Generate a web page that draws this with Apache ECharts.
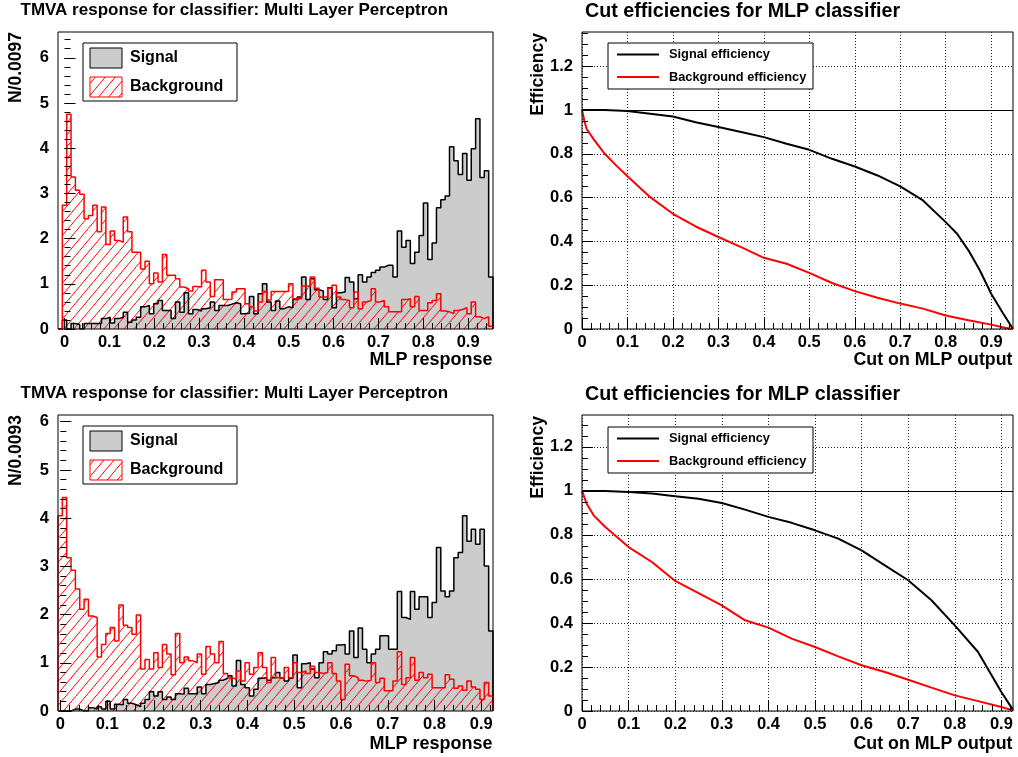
<!DOCTYPE html>
<html>
<head>
<meta charset="utf-8">
<script src="https://cdn.jsdelivr.net/npm/echarts@6/dist/echarts.min.js"></script>
<style>
  html, body { margin: 0; padding: 0; background: #ffffff; }
  #chart { width: 1018px; height: 757px; }
</style>
</head>
<body>
<div id="chart"></div>
<script>
// ---- Binning of the two MLP response histograms ----
const TOP_LO = -0.0145, TOP_BIN = 0.0097;   // N/0.0097
const BOT_LO = -0.005,  BOT_BIN = 0.0093;   // N/0.0093

// ---- Histogram contents (100 bins each) ----
const SIG_TOP = [
  0, 0.2, 0, 0.12, 0.1, 0, 0.12, 0.12, 0.12, 0.12,
  0.23, 0.26, 0.13, 0.23, 0.26, 0.37, 0.15, 0.2, 0.26, 0.49,
  0.52, 0.34, 0.56, 0.63, 0.41, 0.41, 0.23, 0.6, 0.37, 0.8,
  0.34, 0.43, 0.4, 0.45, 0.47, 0.6, 0.41, 0.52, 0.52, 0.55,
  0.58, 0.56, 0.34, 0.35, 0.72, 0.34, 0.78, 1.0, 0.6, 0.41,
  0.62, 0.45, 0.49, 0.47, 0.65, 0.71, 1.15, 0.65, 1.11, 0.87,
  0.84, 0.65, 0.91, 0.47, 0.8, 0.82, 1.14, 1.04, 0.67, 1.2,
  1.04, 1.15, 1.25, 1.3, 1.37, 1.41, 1.41, 1.15, 2.17, 1.81,
  1.96, 1.45, 1.7, 2.07, 2.79, 1.54, 1.9, 2.68, 2.86, 2.94,
  4.03, 3.72, 3.42, 3.88, 3.29, 3.99, 4.65, 3.35, 3.5, 1.15
];
const BKG_TOP = [
  0, 2.74, 4.75, 3.36, 3.07, 2.98, 2.44, 2.51, 2.74, 2.15,
  2.7, 1.87, 2.17, 1.96, 1.92, 2.48, 2.15, 1.7, 1.7, 1.33,
  1.5, 1.0, 1.24, 1.04, 1.65, 1.19, 1.19, 1.11, 0.93, 0.89,
  0.84, 0.94, 0.93, 1.3, 1.04, 0.72, 1.09, 1.09, 0.65, 0.66,
  0.82, 0.89, 0.89, 0.56, 0.49, 0.4, 0.6, 0.83, 0.64, 0.83,
  0.83, 0.83, 0.83, 1.0, 0.67, 0.67, 0.95, 0.95, 1.15, 0.9,
  0.71, 0.71, 0.9, 0.97, 0.71, 0.65, 0.63, 0.47, 0.82, 0.45,
  0.6, 0.63, 0.89, 0.6, 0.63, 0.49, 0.38, 0.38, 0.38, 0.65,
  0.67, 0.49, 0.72, 0.41, 0.41, 0.58, 0.63, 0.78, 0.4, 0.38,
  0.34, 0.41, 0.43, 0.47, 0.34, 0.6, 0.27, 0.23, 0.27, 0.06
];
const SIG_BOT = [
  0, 0, 0, 0.04, 0.04, 0, 0, 0.07, 0.04, 0.09,
  0.04, 0.2, 0.04, 0.14, 0.13, 0.24, 0.16, 0.13, 0.09, 0.16,
  0.24, 0.4, 0.31, 0.4, 0.24, 0.29, 0.24, 0.36, 0.35, 0.47,
  0.36, 0.36, 0.5, 0.36, 0.55, 0.57, 0.59, 0.64, 0.68, 0.73,
  0.52, 1.05, 0.55, 0.48, 0.31, 0.45, 0.68, 0.69, 0.64, 0.69,
  0.8, 0.69, 0.62, 0.68, 1.16, 0.48, 0.98, 1.0, 0.87, 0.69,
  1.0, 1.23, 1.18, 1.25, 1.37, 1.38, 1.18, 1.66, 1.11, 1.72,
  1.28, 1.0, 1.18, 1.28, 1.56, 1.56, 1.28, 1.28, 2.48, 1.94,
  1.9, 2.48, 2.11, 2.37, 2.37, 1.94, 2.25, 3.39, 2.49, 2.37,
  2.49, 3.18, 3.29, 4.05, 3.52, 3.77, 3.46, 3.77, 3.01, 1.66
];
const BKG_BOT = [
  4.05, 4.43, 3.18, 2.92, 2.53, 2.11, 2.32, 1.97, 1.94, 1.12,
  1.38, 1.61, 1.73, 1.45, 2.2, 1.78, 1.73, 1.59, 1.99, 0.87,
  1.07, 0.87, 1.21, 0.9, 1.38, 1.18, 0.75, 1.61, 1.0, 1.12,
  1.04, 1.0, 1.18, 0.76, 1.34, 1.18, 1.0, 1.44, 0.78, 0.69,
  0.66, 0.83, 0.62, 1.0, 0.76, 0.9, 1.21, 0.9, 0.59, 1.11,
  0.69, 0.68, 0.9, 0.69, 1.0, 0.8, 0.83, 0.78, 0.93, 0.8,
  0.78, 0.8, 1.0, 0.78, 0.62, 0.24, 0.97, 0.73, 0.69, 0.64,
  0.62, 0.64, 1.0, 0.59, 0.68, 0.42, 0.42, 0.62, 1.23, 0.55,
  0.69, 1.11, 0.64, 0.8, 0.69, 0.76, 0.48, 0.48, 0.48, 0.75,
  0.66, 0.47, 0.52, 0.43, 0.62, 0.5, 0.45, 0.24, 0.59, 0.31
];

// ---- Cut efficiencies vs. cut on MLP output ----
const CUT_SIG_TOP = [0, 0.05, 0.1, 0.15, 0.2, 0.25, 0.3, 0.35, 0.4, 0.45, 0.5, 0.55, 0.6, 0.65, 0.7, 0.75, 0.8, 0.825, 0.85, 0.875, 0.9, 0.925, 0.948];
const EFF_SIG_TOP = [1.0, 1.0, 0.995, 0.983, 0.97, 0.944, 0.922, 0.899, 0.876, 0.846, 0.818, 0.777, 0.742, 0.701, 0.651, 0.587, 0.488, 0.435, 0.359, 0.268, 0.161, 0.075, 0.0];
const CUT_BKG_TOP = [0, 0.005, 0.01, 0.025, 0.05, 0.075, 0.1, 0.15, 0.2, 0.25, 0.3, 0.35, 0.4, 0.45, 0.5, 0.55, 0.6, 0.65, 0.7, 0.75, 0.8, 0.85, 0.9, 0.93, 0.948];
const EFF_BKG_TOP = [1.0, 0.952, 0.914, 0.868, 0.8, 0.747, 0.697, 0.602, 0.526, 0.468, 0.42, 0.374, 0.325, 0.298, 0.256, 0.21, 0.173, 0.143, 0.116, 0.093, 0.062, 0.04, 0.02, 0.006, 0.0];

const CUT_SIG_BOT = [0, 0.05, 0.1, 0.15, 0.2, 0.25, 0.3, 0.35, 0.4, 0.45, 0.5, 0.55, 0.6, 0.65, 0.7, 0.75, 0.8, 0.85, 0.875, 0.9, 0.925];
const EFF_SIG_BOT = [1.0, 1.0, 0.995, 0.988, 0.976, 0.964, 0.945, 0.915, 0.882, 0.855, 0.821, 0.783, 0.73, 0.662, 0.594, 0.503, 0.389, 0.268, 0.177, 0.086, 0.005];
const CUT_BKG_BOT = [0, 0.01, 0.025, 0.05, 0.075, 0.1, 0.15, 0.2, 0.25, 0.3, 0.35, 0.4, 0.45, 0.5, 0.55, 0.6, 0.65, 0.7, 0.75, 0.8, 0.85, 0.9, 0.925];
const EFF_BKG_BOT = [1.0, 0.942, 0.889, 0.836, 0.791, 0.745, 0.677, 0.591, 0.536, 0.48, 0.412, 0.379, 0.329, 0.291, 0.248, 0.208, 0.177, 0.142, 0.106, 0.071, 0.045, 0.018, 0.003];

// ---- Tick labels ----
const X_LABELS = [0, 0.1, 0.2, 0.3, 0.4, 0.5, 0.6, 0.7, 0.8, 0.9];
const HIST_Y_LABELS = [0, 1, 2, 3, 4, 5, 6];
const EFF_Y_LABELS = [0, 0.2, 0.4, 0.6, 0.8, 1, 1.2];

// ---- Texts ----
const HIST_TITLE = 'TMVA response for classifier: Multi Layer Perceptron';
const EFF_TITLE = 'Cut efficiencies for MLP classifier';

const FONT = '"Liberation Sans", Arial, Helvetica, sans-serif';
const RED = '#ff0000';

// Red "/" hatching: parallel lines x*t + y = c (screen space), 10 px apart horizontally,
// clipped to a rectangle. Returns line segments.
const HATCH_T = Math.tan(50 * Math.PI / 180);
const HATCH_STEP = 10 * HATCH_T;
function hatchSegments(x0, y0, x1, y1) {
  const segs = [];
  if (x1 - x0 <= 0 || y1 - y0 <= 0) return segs;
  const cmin = HATCH_T * x0 + y0, cmax = HATCH_T * x1 + y1;
  for (let k = Math.ceil(cmin / HATCH_STEP); k * HATCH_STEP <= cmax; k++) {
    const c = k * HATCH_STEP;
    const xa = Math.max(x0, (c - y1) / HATCH_T);
    const xb = Math.min(x1, (c - y0) / HATCH_T);
    if (xb - xa < 0.05) continue;
    segs.push({ x1: xa, y1: c - HATCH_T * xa, x2: xb, y2: c - HATCH_T * xb });
  }
  return segs;
}
function hatchLines(x0, y0, x1, y1, z) {
  return hatchSegments(x0, y0, x1, y1).map(s => ({
    type: 'line', z: z, silent: true, shape: s, style: { stroke: RED, lineWidth: 1 }
  }));
}

// Step outline of a histogram: bin edges with the bin content
function histPoints(lo, width, values) {
  const pts = [[lo, 0]];
  values.forEach((v, i) => pts.push([+(lo + i * width).toFixed(6), v]));
  const hi = +(lo + values.length * width).toFixed(6);
  pts.push([hi, values[values.length - 1]]);
  pts.push([hi, 0]);
  return pts;
}
// One [low edge, high edge, content] triple per bin
function histBins(lo, width, values) {
  return values.map((v, i) => [+(lo + i * width).toFixed(6), +(lo + (i + 1) * width).toFixed(6), v]);
}
function zip(xs, ys) { return xs.map((x, i) => [x, ys[i]]); }

function minorValues(min, max, step) {
  const out = [];
  for (let k = Math.ceil(min / step - 1e-9); k * step < max - 1e-9; k++) {
    const v = +(k * step).toFixed(6);
    if (v > min + 1e-9) out.push(v);
  }
  return out;
}

const LAYOUT = [
  { left: 58,  top: 32,  width: 435, height: 297 },   // histogram, top
  { left: 582, top: 32,  width: 431, height: 297 },   // efficiencies, top
  { left: 58,  top: 415, width: 435, height: 296 },   // histogram, bottom
  { left: 582, top: 415, width: 431, height: 296 }    // efficiencies, bottom
];

const RANGES = [
  { x: [TOP_LO, +(TOP_LO + 100 * TOP_BIN).toFixed(6)], y: [0, 6.57], yTicks: HIST_Y_LABELS, yMinor: 0.2, grid: false },
  { x: [0, 0.948], y: [0, 1.356], yTicks: EFF_Y_LABELS, yMinor: 0.05, grid: true },
  { x: [BOT_LO, +(BOT_LO + 100 * BOT_BIN).toFixed(6)], y: [0, 6.14], yTicks: HIST_Y_LABELS, yMinor: 0.2, grid: false },
  { x: [0, 0.925], y: [0, 1.345], yTicks: EFF_Y_LABELS, yMinor: 0.05, grid: true }
];

const labelStyle = { color: '#000', fontFamily: FONT, fontWeight: 'bold', fontSize: 16.5 };
const gridLine = { show: true, lineStyle: { color: '#222', width: 1, type: [1, 2] } };

function axisPair(dim, g, range, majors, minorStep, withGrid, gridInterval) {
  const base = {
    type: 'value', gridIndex: g, min: range[0], max: range[1], z: 4,
    position: dim === 'x' ? 'bottom' : 'left',
    axisLine: { show: false }, splitLine: { show: false }
  };
  const major = Object.assign({}, base, {
    axisTick: { show: true, inside: true, length: 11, customValues: majors, lineStyle: { color: '#000', width: 1 } },
    axisLabel: Object.assign({ show: true, customValues: majors, margin: dim === 'x' ? 5 : 9,
      formatter: v => String(+(+v).toFixed(4)) }, labelStyle)
  });
  if (withGrid) {
    major.interval = gridInterval;
    major.splitLine = gridLine;
  }
  const minor = Object.assign({}, base, {
    axisTick: { show: true, inside: true, length: 6, customValues: minorValues(range[0], range[1], minorStep),
      lineStyle: { color: '#000', width: 1 } },
    axisLabel: { show: false }
  });
  return [major, minor];
}

const grids = LAYOUT.map(l => Object.assign({
  show: true, borderColor: '#000', borderWidth: 1, backgroundColor: 'transparent',
  containLabel: false, outerBoundsMode: 'none', z: 3
}, l));

const xAxes = [], yAxes = [];
RANGES.forEach((r, g) => {
  xAxes.push(...axisPair('x', g, r.x, X_LABELS, 0.02, r.grid, 0.1));
  yAxes.push(...axisPair('y', g, r.y, r.yTicks, r.yMinor, r.grid, 0.2));
});

// Filled histogram drawn as a stepped line with its area
function histSeries(panel, lo, width, values, line, area) {
  const s = {
    type: 'line', xAxisIndex: 2 * panel, yAxisIndex: 2 * panel,
    data: histPoints(lo, width, values), step: 'end',
    symbol: 'none', showSymbol: false, silent: true, z: 2,
    lineStyle: { color: line, width: 1.5 }
  };
  if (area) s.areaStyle = { color: area, opacity: 1 };
  return s;
}
// Hatching of each bin, under the background outline
function hatchSeries(panel, lo, width, values) {
  return {
    type: 'custom', xAxisIndex: 2 * panel, yAxisIndex: 2 * panel,
    data: histBins(lo, width, values), silent: true, z: 2, clip: true,
    encode: { x: [0, 1], y: 2 },
    renderItem: function (params, api) {
      const a = api.coord([api.value(0), 0]);
      const b = api.coord([api.value(1), api.value(2)]);
      return {
        type: 'group',
        children: hatchSegments(a[0], b[1], b[0], a[1]).map(s => ({
          type: 'line', shape: s, style: { stroke: RED, lineWidth: 1 }
        }))
      };
    }
  };
}
function effSeries(panel, cuts, effs, color, withUnity) {
  const s = {
    type: 'line', xAxisIndex: 2 * panel, yAxisIndex: 2 * panel,
    data: zip(cuts, effs), symbol: 'none', showSymbol: false, silent: true, z: 2,
    lineStyle: { color: color, width: 2 }
  };
  if (withUnity) {
    s.markLine = {
      silent: true, symbol: 'none', label: { show: false }, animation: false,
      lineStyle: { color: '#000', width: 1, type: 'solid' },
      data: [{ yAxis: 1 }]
    };
  }
  return s;
}

const series = [
  histSeries(0, TOP_LO, TOP_BIN, SIG_TOP, '#000', '#cccccc'),
  hatchSeries(0, TOP_LO, TOP_BIN, BKG_TOP),
  histSeries(0, TOP_LO, TOP_BIN, BKG_TOP, RED, null),
  effSeries(1, CUT_SIG_TOP, EFF_SIG_TOP, '#000', true),
  effSeries(1, CUT_BKG_TOP, EFF_BKG_TOP, RED, false),
  histSeries(2, BOT_LO, BOT_BIN, SIG_BOT, '#000', '#cccccc'),
  hatchSeries(2, BOT_LO, BOT_BIN, BKG_BOT),
  histSeries(2, BOT_LO, BOT_BIN, BKG_BOT, RED, null),
  effSeries(3, CUT_SIG_BOT, EFF_SIG_BOT, '#000', true),
  effSeries(3, CUT_BKG_BOT, EFF_BKG_BOT, RED, false)
];

// ---- Titles, axis titles and legends ----
function txt(text, x, y, size, align, extra) {
  return Object.assign({
    type: 'text', x: x, y: y, z: 20, silent: true,
    style: { text: text, fill: '#000', fontFamily: FONT, fontWeight: 'bold', fontSize: size,
      align: align, verticalAlign: 'middle' }
  }, extra || {});
}
function vtxt(text, x, yTop, size) {
  return txt(text, x, yTop, size, 'right', { rotation: Math.PI / 2 });
}
function histLegend(dy) {
  return [
    { type: 'rect', z: 20, silent: true, shape: { x: 83, y: 43 + dy, width: 154, height: 58 },
      style: { fill: '#fff', stroke: '#000', lineWidth: 1 } },
    { type: 'rect', z: 21, silent: true, shape: { x: 90, y: 48 + dy, width: 32, height: 20 },
      style: { fill: '#cccccc', stroke: '#000', lineWidth: 1 } },
    ...hatchLines(90, 77 + dy, 122, 97 + dy, 21),
    { type: 'rect', z: 22, silent: true, shape: { x: 90, y: 77 + dy, width: 32, height: 20 },
      style: { fill: null, stroke: RED, lineWidth: 1 } },
    txt('Signal', 130, 58 + dy, 16, 'left'),
    txt('Background', 130, 87 + dy, 16, 'left')
  ];
}
function effLegend(dy) {
  return [
    { type: 'rect', z: 20, silent: true, shape: { x: 608, y: 43 + dy, width: 205, height: 46 },
      style: { fill: '#fff', stroke: '#000', lineWidth: 1 } },
    { type: 'line', z: 21, silent: true, shape: { x1: 617, y1: 54.5 + dy, x2: 659, y2: 54.5 + dy },
      style: { stroke: '#000', lineWidth: 2 } },
    { type: 'line', z: 21, silent: true, shape: { x1: 617, y1: 77 + dy, x2: 659, y2: 77 + dy },
      style: { stroke: RED, lineWidth: 2 } },
    txt('Signal efficiency', 669, 54.5 + dy, 12.8, 'left'),
    txt('Background efficiency', 669, 77 + dy, 12.8, 'left')
  ];
}

const graphics = [
  txt(HIST_TITLE, 20.5, 10, 17, 'left'),
  txt(EFF_TITLE, 585, 12, 19.7, 'left'),
  txt(HIST_TITLE, 20.5, 393, 17, 'left'),
  txt(EFF_TITLE, 585, 395, 19.7, 'left'),
  vtxt('N/0.0097', 16.5, 32, 17.5),
  vtxt('N/0.0093', 16.5, 415, 17.5),
  vtxt('Efficiency', 538, 33, 17.5),
  vtxt('Efficiency', 538, 416, 17.5),
  txt('MLP response', 492.5, 360, 18, 'right'),
  txt('MLP response', 492.5, 744, 18, 'right'),
  txt('Cut on MLP output', 1012.5, 360, 17.8, 'right'),
  txt('Cut on MLP output', 1012.5, 744, 17.8, 'right'),
  ...histLegend(0), ...histLegend(383),
  ...effLegend(0), ...effLegend(384)
];

const chart = echarts.init(document.getElementById('chart'), null, { renderer: 'canvas', width: 1018, height: 757 });
chart.setOption({
  animation: false,
  backgroundColor: '#ffffff',
  grid: grids,
  xAxis: xAxes,
  yAxis: yAxes,
  series: series,
  graphic: { elements: graphics }
});
</script>
</body>
</html>
